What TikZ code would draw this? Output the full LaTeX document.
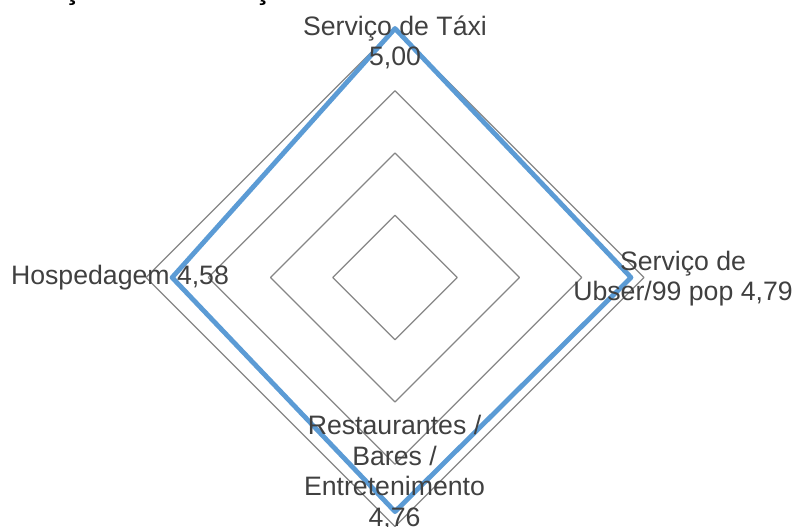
\documentclass[tikz,border=0pt]{standalone}
\usepackage{fontspec}
\setmainfont{Liberation Sans}
\definecolor{ringgray}{HTML}{868686}
\definecolor{seriesblue}{HTML}{5B9BD5}
\definecolor{labeltext}{HTML}{404040}

\begin{document}
\begin{tikzpicture}[x=0.75pt,y=-0.75pt,
  ring/.style={draw=ringgray,line width=1pt,line join=round},
  series/.style={draw=seriesblue,line width=3.6pt,line join=round},
  axislabel/.style={text=labeltext,align=center,inner sep=0pt,font=\fontsize{20}{23}\selectfont}]
\useasboundingbox (0,0) rectangle (793,526);
\node[font=\fontsize{22}{26}\selectfont\bfseries,anchor=base,inner sep=0pt] (title) at (377,-1) {Avaliação dos Serviços de Turismo na Cidade de Goiânia};

% grid rings
\foreach \r in {62.25,124.5,186.75,249}
  \draw[ring] (395,{277.5-\r}) -- ++(\r,\r) -- ++(-\r,\r) -- ++(-\r,-\r) -- cycle;

\coordinate (taxi) at (395,28.5);
\coordinate (uber) at (631,277.5);
\coordinate (rest) at (395,511.6);
\coordinate (hosp) at (172.1,277.5);
\draw[series] (taxi) -- (uber) -- (rest) -- (hosp) -- cycle;

\node[axislabel] (taxilabel) at (395,42.5) {Serviço de Táxi\\5,00};
\node[axislabel] (uberlabel) at (683,278.5) {Serviço de\\Ubser/99 pop 4,79};
\node[axislabel] (hosplabel) at (120,278) {Hospedagem 4,58};
\node[axislabel] (restlabel) at (394.5,472.5) {Restaurantes /\\Bares /\\Entretenimento\\4,76};
\end{tikzpicture}
\end{document}
